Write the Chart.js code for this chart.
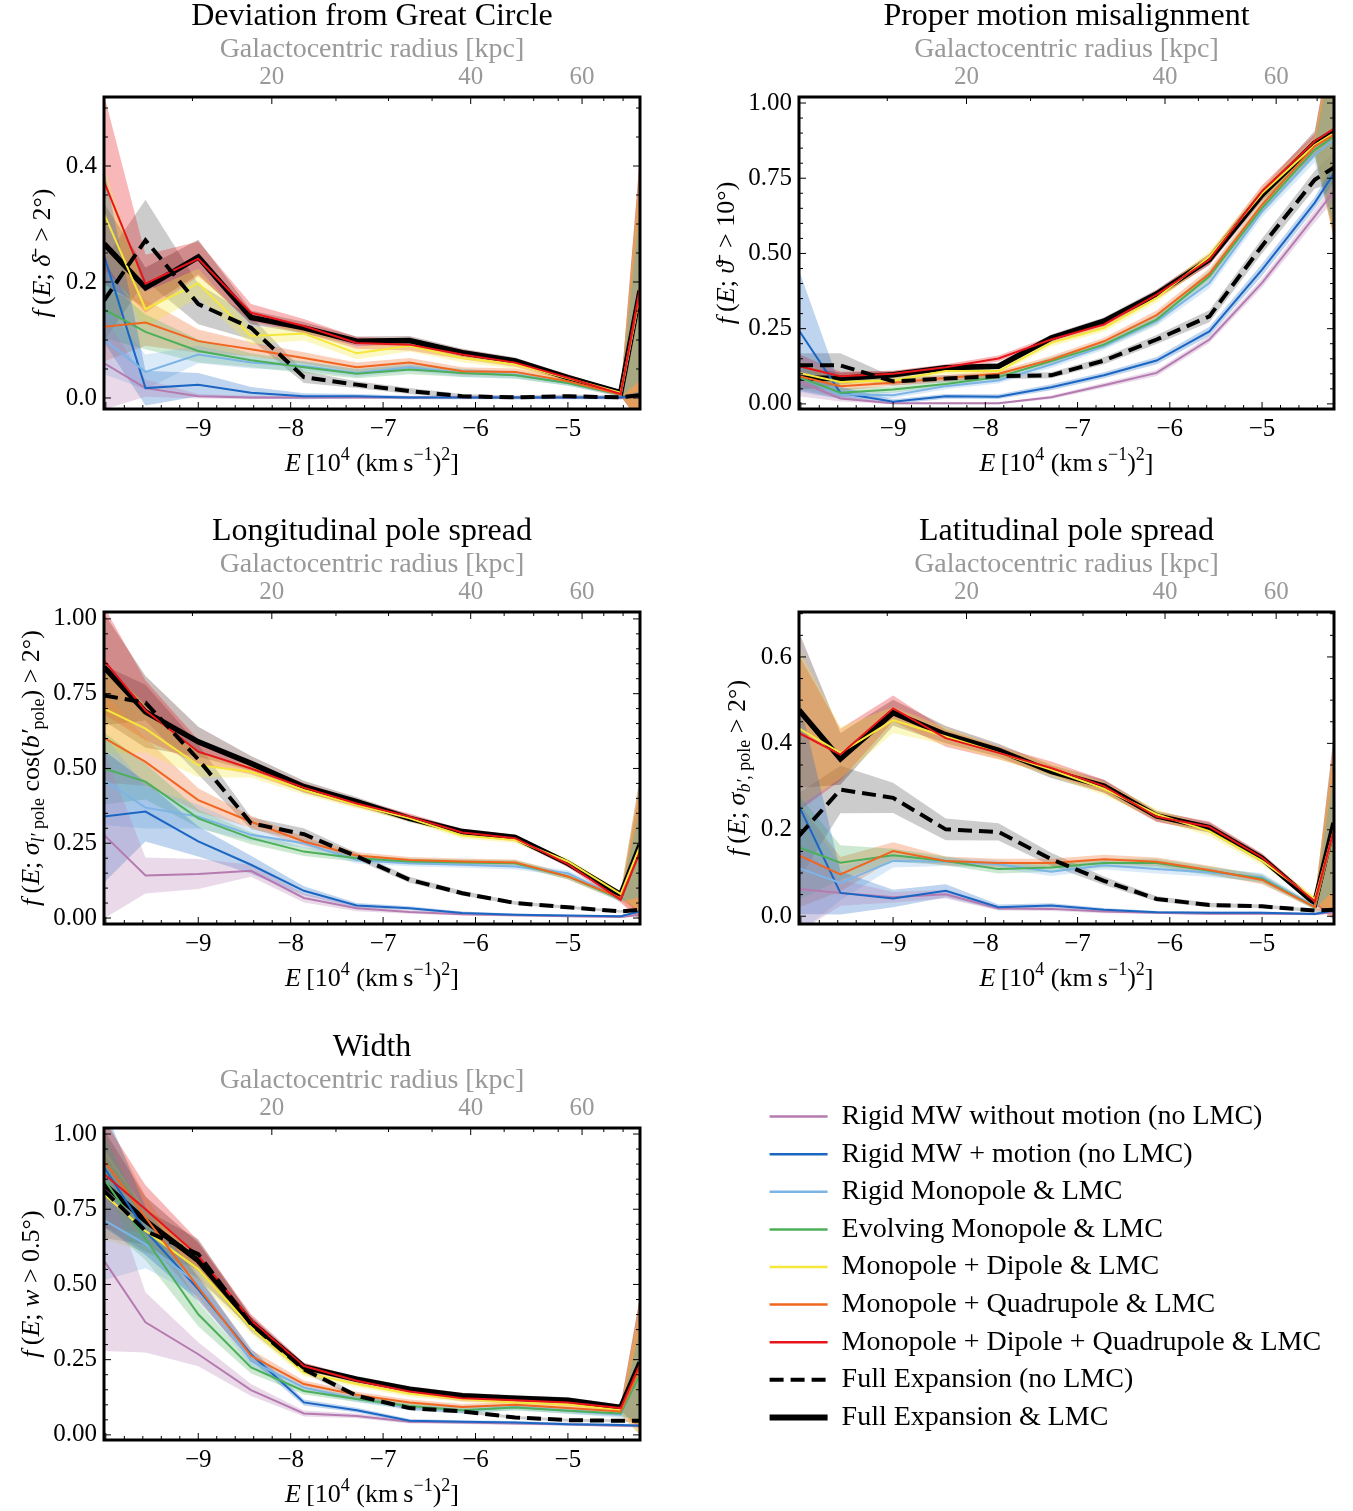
<!DOCTYPE html>
<html lang="en">
<head>
<meta charset="UTF-8">
<title>Stream statistics against orbital energy</title>
<script src="https://cdn.jsdelivr.net/npm/chart.js@4.4.1/dist/chart.umd.min.js"></script>
<style>
  body { margin: 0; background: #fff; width: 1353px; height: 1511px; position: relative; overflow: hidden; }
  canvas { position: absolute; }
</style>
</head>
<body>
<canvas id="dev" width="676" height="480" style="left:0px;top:0px"></canvas>
<canvas id="pm" width="658" height="480" style="left:695px;top:0px"></canvas>
<canvas id="lon" width="676" height="480" style="left:0px;top:515px"></canvas>
<canvas id="lat" width="658" height="480" style="left:695px;top:515px"></canvas>
<canvas id="wid" width="676" height="480" style="left:0px;top:1031px"></canvas>
<canvas id="leg" width="593" height="418" style="left:760px;top:1093px"></canvas>
<script>
// energy bins, 10^4 (km/s)^2 (first and last are the axis edges)
const energy = [-10.02, -9.571, -9.0, -8.429, -7.857, -7.286, -6.714, -6.143, -5.571, -5.0, -4.429, -4.22];
// galactocentric radius ticks on the top axis and where they sit in energy
const radiusTicks = [15, 20, 25, 30, 35, 40, 45, 50, 55, 60, 65, 70];
const radiusTickE = [-9.063, -8.204, -7.51, -6.941, -6.47, -6.052, -5.69, -5.37, -5.105, -4.847, -4.612, -4.403];

const seriesNames = [
  'Rigid MW without motion (no LMC)',
  'Rigid MW + motion (no LMC)',
  'Rigid Monopole & LMC',
  'Evolving Monopole & LMC',
  'Monopole + Dipole & LMC',
  'Monopole + Quadrupole & LMC',
  'Monopole + Dipole + Quadrupole & LMC',
  'Full Expansion (no LMC)',
  'Full Expansion & LMC'
];

// Deviation from Great Circle
const devRigid = [0.06, 0.017, 0.003, 0.001, 0.001, 0.001, 0.001, 0.001, 0.001, 0.001, 0.001, 0.002];
const devMotion = [0.246, 0.017, 0.023, 0.009, 0.003, 0.003, 0.001, 0.001, 0.001, 0.001, 0.001, 0.006];
const devMono = [0.101, 0.045, 0.075, 0.061, 0.055, 0.043, 0.053, 0.043, 0.040, 0.026, 0.006, 0.18];
const devEvo = [0.153, 0.114, 0.081, 0.065, 0.053, 0.042, 0.049, 0.043, 0.039, 0.026, 0.006, 0.18];
const devDip = [0.318, 0.153, 0.198, 0.107, 0.111, 0.077, 0.090, 0.069, 0.058, 0.034, 0.009, 0.18];
const devQuad = [0.123, 0.130, 0.098, 0.084, 0.069, 0.053, 0.061, 0.046, 0.045, 0.029, 0.006, 0.18];
const devDq = [0.373, 0.197, 0.240, 0.147, 0.124, 0.095, 0.092, 0.075, 0.061, 0.035, 0.007, 0.19];
const devFull = [0.168, 0.272, 0.162, 0.121, 0.036, 0.023, 0.012, 0.003, 0.001, 0.003, 0.001, 0.005];
const devFullLmc = [0.266, 0.190, 0.243, 0.139, 0.121, 0.098, 0.099, 0.078, 0.064, 0.035, 0.009, 0.185];
const devRigidErr = [0.08, 0.015, 0.004, 0.003, 0.002, 0.002, 0.002, 0.002, 0.002, 0.002, 0.002, 0.003];
const devMotionErr = [0.15, 0.03, 0.02, 0.01, 0.005, 0.004, 0.003, 0.003, 0.003, 0.003, 0.003, 0.005];
const devMonoErr = [0.06, 0.03, 0.015, 0.01, 0.008, 0.007, 0.007, 0.007, 0.006, 0.005, 0.004, 0.15];
const devEvoErr = [0.05, 0.03, 0.02, 0.012, 0.01, 0.008, 0.008, 0.007, 0.006, 0.005, 0.004, 0.15];
const devDipErr = [0.08, 0.03, 0.025, 0.015, 0.012, 0.01, 0.01, 0.008, 0.007, 0.006, 0.004, 0.22];
const devQuadErr = [0.06, 0.04, 0.02, 0.012, 0.01, 0.008, 0.008, 0.007, 0.006, 0.005, 0.004, 0.22];
const devDqErr = [0.15, 0.05, 0.03, 0.015, 0.012, 0.01, 0.01, 0.008, 0.007, 0.006, 0.004, 0.23];
const devFullErr = [0.07, 0.07, 0.035, 0.02, 0.01, 0.006, 0.005, 0.004, 0.003, 0.003, 0.003, 0.005];
const devFullLmcErr = [0.07, 0.035, 0.03, 0.012, 0.01, 0.008, 0.008, 0.007, 0.006, 0.005, 0.004, 0.23];

// Proper motion misalignment
const pmRigid = [0.075, 0.018, 0.002, 0.002, 0.002, 0.022, 0.062, 0.103, 0.214, 0.402, 0.623, 0.707];
const pmMotion = [0.244, 0.037, 0.007, 0.025, 0.024, 0.055, 0.095, 0.144, 0.241, 0.446, 0.668, 0.767];
const pmMono = [0.089, 0.031, 0.029, 0.059, 0.078, 0.131, 0.192, 0.275, 0.402, 0.640, 0.828, 0.878];
const pmEvo = [0.089, 0.037, 0.048, 0.066, 0.089, 0.142, 0.197, 0.280, 0.424, 0.651, 0.845, 0.889];
const pmDip = [0.103, 0.073, 0.078, 0.109, 0.109, 0.203, 0.252, 0.352, 0.490, 0.700, 0.860, 0.900];
const pmQuad = [0.092, 0.059, 0.070, 0.086, 0.100, 0.147, 0.208, 0.295, 0.432, 0.662, 0.856, 0.895];
const pmDq = [0.125, 0.092, 0.100, 0.122, 0.151, 0.214, 0.264, 0.363, 0.480, 0.707, 0.873, 0.915];
const pmFull = [0.128, 0.128, 0.075, 0.084, 0.092, 0.095, 0.144, 0.214, 0.291, 0.525, 0.745, 0.786];
const pmFullLmc = [0.086, 0.084, 0.097, 0.120, 0.125, 0.219, 0.275, 0.365, 0.480, 0.695, 0.867, 0.906];
const pmRigidErr = [0.05, 0.01, 0.003, 0.003, 0.003, 0.006, 0.008, 0.01, 0.012, 0.015, 0.02, 0.03];
const pmMotionErr = [0.2, 0.02, 0.008, 0.008, 0.008, 0.01, 0.01, 0.012, 0.015, 0.02, 0.02, 0.03];
const pmMonoErr = [0.05, 0.015, 0.01, 0.01, 0.01, 0.012, 0.012, 0.015, 0.018, 0.02, 0.025, 0.3];
const pmEvoErr = [0.04, 0.015, 0.01, 0.01, 0.01, 0.012, 0.012, 0.015, 0.018, 0.02, 0.025, 0.3];
const pmDipErr = [0.04, 0.015, 0.01, 0.01, 0.01, 0.012, 0.012, 0.015, 0.018, 0.02, 0.025, 0.35];
const pmQuadErr = [0.04, 0.015, 0.01, 0.01, 0.01, 0.012, 0.012, 0.015, 0.018, 0.02, 0.025, 0.35];
const pmDqErr = [0.04, 0.015, 0.01, 0.01, 0.01, 0.012, 0.012, 0.015, 0.018, 0.02, 0.025, 0.35];
const pmFullErr = [0.04, 0.04, 0.015, 0.012, 0.01, 0.01, 0.012, 0.015, 0.02, 0.025, 0.03, 0.05];
const pmFullLmcErr = [0.04, 0.02, 0.012, 0.01, 0.01, 0.012, 0.012, 0.015, 0.018, 0.02, 0.04, 0.35];

// Longitudinal pole spread
const lonRigid = [0.278, 0.142, 0.147, 0.158, 0.067, 0.033, 0.020, 0.013, 0.009, 0.006, 0.003, 0.011];
const lonMotion = [0.339, 0.356, 0.256, 0.178, 0.091, 0.042, 0.033, 0.017, 0.011, 0.008, 0.006, 0.022];
const lonMono = [0.461, 0.369, 0.339, 0.278, 0.250, 0.194, 0.183, 0.178, 0.172, 0.150, 0.064, 0.22];
const lonEvo = [0.500, 0.456, 0.333, 0.267, 0.222, 0.200, 0.189, 0.186, 0.183, 0.139, 0.064, 0.22];
const lonDip = [0.700, 0.633, 0.511, 0.489, 0.428, 0.378, 0.333, 0.276, 0.261, 0.189, 0.080, 0.24];
const lonQuad = [0.602, 0.522, 0.394, 0.322, 0.256, 0.209, 0.194, 0.189, 0.186, 0.139, 0.067, 0.22];
const lonDq = [0.861, 0.694, 0.556, 0.500, 0.436, 0.383, 0.339, 0.286, 0.267, 0.180, 0.061, 0.222];
const lonFull = [0.744, 0.720, 0.530, 0.317, 0.280, 0.206, 0.128, 0.083, 0.050, 0.036, 0.022, 0.028];
const lonFullLmc = [0.839, 0.689, 0.589, 0.517, 0.439, 0.389, 0.333, 0.289, 0.269, 0.183, 0.078, 0.244];
const lonRigidErr = [0.28, 0.06, 0.05, 0.02, 0.015, 0.01, 0.006, 0.005, 0.004, 0.003, 0.003, 0.005];
const lonMotionErr = [0.22, 0.1, 0.05, 0.03, 0.015, 0.008, 0.006, 0.005, 0.004, 0.003, 0.003, 0.005];
const lonMonoErr = [0.15, 0.07, 0.04, 0.02, 0.015, 0.012, 0.01, 0.01, 0.01, 0.01, 0.01, 0.15];
const lonEvoErr = [0.12, 0.06, 0.03, 0.02, 0.015, 0.012, 0.01, 0.01, 0.01, 0.01, 0.01, 0.15];
const lonDipErr = [0.15, 0.08, 0.04, 0.02, 0.015, 0.012, 0.01, 0.01, 0.01, 0.01, 0.01, 0.22];
const lonQuadErr = [0.15, 0.08, 0.04, 0.02, 0.015, 0.012, 0.01, 0.01, 0.01, 0.01, 0.01, 0.22];
const lonDqErr = [0.18, 0.1, 0.04, 0.02, 0.015, 0.012, 0.01, 0.01, 0.01, 0.01, 0.01, 0.23];
const lonFullErr = [0.1, 0.06, 0.05, 0.02, 0.02, 0.012, 0.01, 0.008, 0.006, 0.005, 0.004, 0.005];
const lonFullLmcErr = [0.18, 0.12, 0.05, 0.025, 0.02, 0.015, 0.012, 0.01, 0.01, 0.01, 0.01, 0.23];

// Latitudinal pole spread
const latRigid = [0.063, 0.054, 0.044, 0.051, 0.018, 0.017, 0.011, 0.008, 0.006, 0.006, 0.005, 0.01];
const latMotion = [0.255, 0.054, 0.041, 0.059, 0.021, 0.025, 0.015, 0.009, 0.008, 0.008, 0.005, 0.013];
const latMono = [0.111, 0.077, 0.128, 0.126, 0.120, 0.103, 0.118, 0.109, 0.101, 0.090, 0.023, 0.2];
const latEvo = [0.159, 0.124, 0.141, 0.128, 0.109, 0.113, 0.123, 0.123, 0.105, 0.087, 0.021, 0.2];
const latDip = [0.435, 0.378, 0.454, 0.416, 0.378, 0.339, 0.295, 0.236, 0.197, 0.128, 0.040, 0.2];
const latQuad = [0.141, 0.097, 0.151, 0.128, 0.123, 0.123, 0.132, 0.126, 0.107, 0.084, 0.021, 0.2];
const latDq = [0.424, 0.374, 0.481, 0.412, 0.378, 0.343, 0.301, 0.230, 0.207, 0.136, 0.034, 0.201];
const latFull = [0.186, 0.293, 0.274, 0.201, 0.195, 0.132, 0.082, 0.040, 0.026, 0.023, 0.013, 0.015];
const latFullLmc = [0.477, 0.364, 0.471, 0.420, 0.384, 0.335, 0.301, 0.232, 0.205, 0.134, 0.030, 0.216];
const latRigidErr = [0.1, 0.03, 0.012, 0.01, 0.005, 0.005, 0.004, 0.003, 0.003, 0.003, 0.003, 0.005];
const latMotionErr = [0.25, 0.05, 0.02, 0.015, 0.006, 0.005, 0.004, 0.003, 0.003, 0.003, 0.003, 0.005];
const latMonoErr = [0.15, 0.04, 0.015, 0.01, 0.01, 0.01, 0.01, 0.01, 0.01, 0.01, 0.005, 0.14];
const latEvoErr = [0.12, 0.04, 0.015, 0.01, 0.01, 0.01, 0.01, 0.01, 0.01, 0.01, 0.005, 0.14];
const latDipErr = [0.18, 0.06, 0.03, 0.02, 0.015, 0.015, 0.015, 0.012, 0.012, 0.01, 0.006, 0.2];
const latQuadErr = [0.12, 0.04, 0.02, 0.01, 0.01, 0.01, 0.01, 0.01, 0.01, 0.01, 0.005, 0.2];
const latDqErr = [0.18, 0.06, 0.03, 0.02, 0.015, 0.015, 0.015, 0.012, 0.012, 0.01, 0.006, 0.21];
const latFullErr = [0.1, 0.055, 0.035, 0.025, 0.02, 0.015, 0.01, 0.006, 0.005, 0.004, 0.004, 0.005];
const latFullLmcErr = [0.18, 0.06, 0.03, 0.02, 0.015, 0.015, 0.015, 0.012, 0.012, 0.01, 0.006, 0.21];

// Width
const widRigid = [0.579, 0.374, 0.268, 0.149, 0.071, 0.063, 0.044, 0.041, 0.038, 0.035, 0.030, 0.03];
const widMotion = [0.889, 0.678, 0.484, 0.268, 0.108, 0.082, 0.047, 0.044, 0.041, 0.035, 0.033, 0.03];
const widMono = [0.714, 0.634, 0.501, 0.246, 0.157, 0.119, 0.091, 0.080, 0.093, 0.080, 0.067, 0.2];
const widEvo = [0.850, 0.651, 0.401, 0.224, 0.146, 0.119, 0.096, 0.082, 0.091, 0.080, 0.071, 0.2];
const widDip = [0.800, 0.678, 0.551, 0.357, 0.207, 0.169, 0.137, 0.119, 0.108, 0.102, 0.082, 0.22];
const widQuad = [0.911, 0.723, 0.490, 0.263, 0.169, 0.133, 0.108, 0.093, 0.100, 0.089, 0.078, 0.22];
const widDq = [0.867, 0.750, 0.595, 0.381, 0.229, 0.180, 0.144, 0.122, 0.115, 0.108, 0.089, 0.235];
const widFull = [0.812, 0.678, 0.601, 0.368, 0.218, 0.130, 0.089, 0.078, 0.058, 0.049, 0.047, 0.047];
const widFullLmc = [0.834, 0.712, 0.579, 0.374, 0.226, 0.185, 0.152, 0.130, 0.122, 0.115, 0.091, 0.24];
const widRigidErr = [0.3, 0.1, 0.04, 0.02, 0.01, 0.008, 0.006, 0.005, 0.005, 0.005, 0.005, 0.005];
const widMotionErr = [0.2, 0.08, 0.04, 0.02, 0.01, 0.008, 0.006, 0.005, 0.005, 0.005, 0.005, 0.005];
const widMonoErr = [0.2, 0.08, 0.04, 0.02, 0.012, 0.01, 0.01, 0.01, 0.01, 0.01, 0.01, 0.15];
const widEvoErr = [0.15, 0.07, 0.04, 0.02, 0.012, 0.01, 0.01, 0.01, 0.01, 0.01, 0.01, 0.15];
const widDipErr = [0.15, 0.07, 0.04, 0.02, 0.012, 0.01, 0.01, 0.01, 0.01, 0.01, 0.01, 0.22];
const widQuadErr = [0.15, 0.07, 0.04, 0.02, 0.012, 0.01, 0.01, 0.01, 0.01, 0.01, 0.01, 0.22];
const widDqErr = [0.18, 0.08, 0.05, 0.02, 0.012, 0.01, 0.01, 0.01, 0.01, 0.01, 0.01, 0.22];
const widFullErr = [0.12, 0.07, 0.05, 0.025, 0.012, 0.008, 0.006, 0.005, 0.005, 0.005, 0.005, 0.005];
const widFullLmcErr = [0.18, 0.08, 0.06, 0.02, 0.012, 0.01, 0.01, 0.01, 0.01, 0.01, 0.01, 0.22];

const serif = '"Liberation Serif", "DejaVu Serif", serif';
const colors = ['#b57bb0', '#1a66c2', '#7db4e6', '#4caf5a', '#f5e83a', '#f06620', '#e8141b', '#000000', '#000000'];
const bands = ['rgba(181,123,176,0.28)', 'rgba(26,102,194,0.28)', 'rgba(125,180,230,0.28)', 'rgba(76,175,90,0.28)',
  'rgba(245,232,58,0.3)', 'rgba(240,102,32,0.3)', 'rgba(232,20,27,0.3)', 'rgba(0,0,0,0.2)', 'rgba(60,20,10,0.28)'];
const widths = [2, 2, 2, 2, 2, 2, 2, 4, 5.5];
const dashes = [[], [], [], [], [], [], [], [14, 7], []];
const lineOrder = [8, 7, 6, 5, 4, 3, 2, 0, 9];

const xTitle = [['E', 'i'], ['\u2009[10', 'r'], ['4', 'sup'], [' (km\u2009s', 'r'], ['\u22121', 'sup'], [')', 'r'], ['2', 'sup'], [']', 'r']];
const fE = [['f', 'i'], ['\u2009(', 'r'], ['E', 'i'], ['; ', 'r']];

const panels = [
  { id: 'dev', title: 'Deviation from Great Circle', ymin: -0.019, ymax: 0.519, ystep: 0.2, yminor: 0.05, digits: 1,
    ytitle: fE.concat([['\u03B4\u0304', 'i'], ['\u2002> 2\u00B0)', 'r']]),
    vals: [devRigid, devMotion, devMono, devEvo, devDip, devQuad, devDq, devFull, devFullLmc],
    errs: [devRigidErr, devMotionErr, devMonoErr, devEvoErr, devDipErr, devQuadErr, devDqErr, devFullErr, devFullLmcErr] },
  { id: 'pm', title: 'Proper motion misalignment', ymin: -0.017, ymax: 1.02, ystep: 0.25, yminor: 0.05, digits: 2,
    ytitle: fE.concat([['\u03D1\u0304', 'i'], ['\u2002> 10\u00B0)', 'r']]),
    vals: [pmRigid, pmMotion, pmMono, pmEvo, pmDip, pmQuad, pmDq, pmFull, pmFullLmc],
    errs: [pmRigidErr, pmMotionErr, pmMonoErr, pmEvoErr, pmDipErr, pmQuadErr, pmDqErr, pmFullErr, pmFullLmcErr] },
  { id: 'lon', title: 'Longitudinal pole spread', ymin: -0.02, ymax: 1.023, ystep: 0.25, yminor: 0.05, digits: 2,
    ytitle: fE.concat([['\u03C3', 'i'], ['l\u2032', 'isub'], [' pole', 'sub'], [' cos(', 'r'], ['b\u2032', 'i'], ['pole', 'sub'], [') > 2\u00B0)', 'r']]),
    vals: [lonRigid, lonMotion, lonMono, lonEvo, lonDip, lonQuad, lonDq, lonFull, lonFullLmc],
    errs: [lonRigidErr, lonMotionErr, lonMonoErr, lonEvoErr, lonDipErr, lonQuadErr, lonDqErr, lonFullErr, lonFullLmcErr] },
  { id: 'lat', title: 'Latitudinal pole spread', ymin: -0.018, ymax: 0.704, ystep: 0.2, yminor: 0.05, digits: 1,
    ytitle: fE.concat([['\u03C3', 'i'], ['b\u2032', 'isub'], [', pole', 'sub'], [' > 2\u00B0)', 'r']]),
    vals: [latRigid, latMotion, latMono, latEvo, latDip, latQuad, latDq, latFull, latFullLmc],
    errs: [latRigidErr, latMotionErr, latMonoErr, latEvoErr, latDipErr, latQuadErr, latDqErr, latFullErr, latFullLmcErr] },
  { id: 'wid', title: 'Width', ymin: -0.017, ymax: 1.02, ystep: 0.25, yminor: 0.05, digits: 2,
    ytitle: fE.concat([['w', 'i'], [' > 0.5\u00B0)', 'r']]),
    vals: [widRigid, widMotion, widMono, widEvo, widDip, widQuad, widDq, widFull, widFullLmc],
    errs: [widRigidErr, widMotionErr, widMonoErr, widEvoErr, widDipErr, widQuadErr, widDqErr, widFullErr, widFullLmcErr] }
];
const panelById = {};
panels.forEach(p => { panelById[p.id] = p; });

// text with italics, sub- and superscripts (axis labels with maths)
function drawRich(ctx, segs, cx, cy, size, rot) {
  const parts = segs.map(([t, s]) => {
    const sub = s.endsWith('sub'), sup = s.endsWith('sup');
    const fs = (sub || sup) ? Math.round(size * 0.7) : size;
    const font = (s[0] === 'i' ? 'italic ' : '') + fs + 'px ' + serif;
    ctx.font = font;
    const dy = sub ? size * 0.22 : sup ? -size * 0.4 : 0;
    return { t, font, dy, w: ctx.measureText(t).width };
  });
  const total = parts.reduce((s, p) => s + p.w, 0);
  ctx.save();
  ctx.translate(cx, cy);
  ctx.rotate(rot);
  ctx.fillStyle = '#000';
  ctx.textAlign = 'left';
  ctx.textBaseline = 'alphabetic';
  let x = -total / 2;
  parts.forEach(p => {
    ctx.font = p.font;
    ctx.fillText(p.t, x, size * 0.33 + p.dy);
    x += p.w;
  });
  ctx.restore();
}

// inward ticks on all sides, the frame, and the axis labels
const decor = {
  id: 'decor',
  afterDatasetsDraw(chart) {
    const p = panelById[chart.canvas.id];
    if (!p) return;
    const { ctx, chartArea: a } = chart;
    const sx = chart.scales.x, sy = chart.scales.y;
    ctx.save();
    ctx.strokeStyle = '#000';
    ctx.lineWidth = 1;
    const seg = (x1, y1, x2, y2) => { ctx.beginPath(); ctx.moveTo(x1, y1); ctx.lineTo(x2, y2); ctx.stroke(); };
    const isMajor = (v, step) => Math.abs(v / step - Math.round(v / step)) < 1e-6;
    for (let i = Math.ceil(sx.min / 0.2 - 1e-9); i * 0.2 <= sx.max + 1e-9; i++) {
      const v = i * 0.2, px = sx.getPixelForValue(v);
      seg(px, a.bottom, px, a.bottom - (isMajor(v, 1) ? 7 : 4));
    }
    radiusTicks.forEach((r, j) => {
      const px = sx.getPixelForValue(radiusTickE[j]);
      seg(px, a.top, px, a.top + (r % 20 === 0 ? 7 : 4));
    });
    for (let i = Math.ceil(sy.min / p.yminor - 1e-9); i * p.yminor <= sy.max + 1e-9; i++) {
      const v = i * p.yminor, py = sy.getPixelForValue(v), len = isMajor(v, p.ystep) ? 7 : 4;
      seg(a.left, py, a.left + len, py);
      seg(a.right, py, a.right - len, py);
    }
    ctx.lineWidth = 3;
    ctx.strokeRect(a.left, a.top, a.right - a.left, a.bottom - a.top);
    ctx.restore();
  },
  afterDraw(chart) {
    const p = panelById[chart.canvas.id];
    if (!p) return;
    const a = chart.chartArea;
    drawRich(chart.ctx, xTitle, (a.left + a.right) / 2, a.bottom + 53, 26, 0);
    const off = p.digits === 1 ? 63 : 74;
    drawRich(chart.ctx, p.ytitle, a.left - off, (a.top + a.bottom) / 2, 26, -Math.PI / 2);
  }
};
Chart.register(decor);

function buildDatasets(p) {
  const ds = [];
  p.vals.forEach((v, k) => {
    ds.push({
      label: seriesNames[k],
      data: energy.map((x, i) => ({ x, y: v[i] })),
      borderColor: colors[k], borderWidth: widths[k], borderDash: dashes[k],
      pointRadius: 0, tension: 0, fill: false, order: lineOrder[k]
    });
  });
  p.vals.forEach((v, k) => {
    const e = p.errs[k];
    ds.push({
      label: seriesNames[k] + ' upper',
      data: energy.map((x, i) => ({ x, y: v[i] + e[i] })),
      borderColor: 'rgba(0,0,0,0)', borderWidth: 0, pointRadius: 0,
      fill: '+1', backgroundColor: bands[k], order: 20 + k
    });
    ds.push({
      label: seriesNames[k] + ' lower',
      data: energy.map((x, i) => ({ x, y: v[i] - e[i] })),
      borderColor: 'rgba(0,0,0,0)', borderWidth: 0, pointRadius: 0,
      fill: false, order: 20 + k
    });
  });
  return ds;
}

const rightPad = { dev: 36, lon: 36, wid: 36, pm: 19, lat: 19 };

panels.forEach(p => {
  new Chart(document.getElementById(p.id), {
    type: 'line',
    data: { datasets: buildDatasets(p) },
    options: {
      responsive: false,
      animation: false,
      events: [],
      layout: { padding: { left: 0, right: rightPad[p.id], top: 0, bottom: 0 } },
      plugins: {
        legend: { display: false },
        tooltip: { enabled: false },
        title: {
          display: true, text: p.title, fullSize: false, color: '#000', padding: 0,
          font: { family: serif, size: 32, weight: 'normal', lineHeight: '33px' }
        }
      },
      scales: {
        x: {
          type: 'linear', position: 'bottom', min: energy[0], max: energy[energy.length - 1],
          grid: { display: false, drawTicks: false }, border: { display: false },
          afterBuildTicks: s => { s.ticks = s.ticks.filter(t => t.value > -9.5); },
          afterFit: s => { s.height = 71; },
          ticks: {
            stepSize: 1, includeBounds: false, autoSkip: false, maxRotation: 0, padding: 5, color: '#000',
            font: { family: serif, size: 25 },
            callback: v => (v < 0 ? '\u2212' : '') + Math.abs(v)
          }
        },
        x2: {
          type: 'linear', position: 'top', min: energy[0], max: energy[energy.length - 1],
          grid: { display: false, drawTicks: false }, border: { display: false },
          afterBuildTicks: s => { s.ticks = radiusTickE.map(v => ({ value: v })); },
          afterFit: s => { s.height = 64; },
          ticks: {
            autoSkip: false, maxRotation: 0, padding: 5, color: '#999999',
            font: { family: serif, size: 25 },
            callback: (v, i) => (radiusTicks[i] % 20 === 0 ? String(radiusTicks[i]) : '')
          },
          title: {
            display: true, text: 'Galactocentric radius [kpc]', color: '#999999',
            font: { family: serif, size: 28 }, padding: { top: 0, bottom: 0 }
          }
        },
        y: {
          type: 'linear', position: 'left', min: p.ymin, max: p.ymax,
          grid: { display: false, drawTicks: false }, border: { display: false },
          afterFit: s => { s.width = 104; },
          ticks: {
            stepSize: p.ystep, includeBounds: false, padding: 7, color: '#000',
            font: { family: serif, size: 25 },
            callback: v => v.toFixed(p.digits)
          }
        }
      }
    }
  });
});

// legend block in the empty lower-right slot; line style taken from each dataset
new Chart(document.getElementById('leg'), {
  type: 'line',
  data: {
    datasets: seriesNames.map((n, k) => ({
      label: n, data: [], borderColor: colors[k], backgroundColor: colors[k],
      borderWidth: k === 8 ? 6 : k === 7 ? 4 : 2.5, borderDash: dashes[k]
    }))
  },
  options: {
    responsive: false,
    animation: false,
    events: [],
    scales: { x: { display: false }, y: { display: false } },
    plugins: {
      tooltip: { enabled: false },
      legend: {
        display: true, position: 'top', align: 'start', maxHeight: 400,
        labels: {
          usePointStyle: true, pointStyle: 'line', pointStyleWidth: 58, padding: 9.6, color: '#000',
          font: { family: serif, size: 28 },
          generateLabels: chart => Chart.defaults.plugins.legend.labels.generateLabels(chart).map(item => {
            const d = chart.data.datasets[item.datasetIndex];
            item.lineDash = d.borderDash;
            item.lineWidth = d.borderWidth;
            item.strokeStyle = d.borderColor;
            return item;
          })
        }
      }
    }
  }
});
</script>
</body>
</html>
